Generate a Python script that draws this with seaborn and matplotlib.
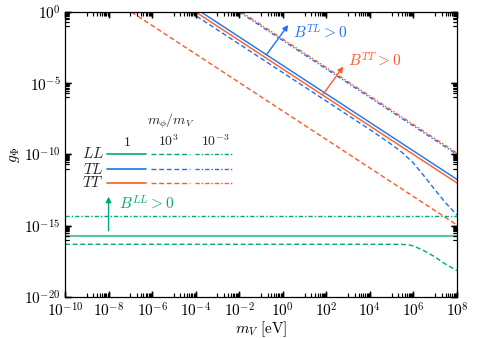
import numpy as np
import matplotlib
matplotlib.use("Agg")
import matplotlib.pyplot as plt
import seaborn as sns
from matplotlib.ticker import FixedLocator, FixedFormatter, NullFormatter

# colours for the three polarisation channels
c_LL = "#00a878"
c_TL = "#1f6ff5"
c_TT = "#ff5a26"

# LL lines
LL_1_x = [1e-10, 1e8]
LL_1_y = [2.0e-16, 2.0e-16]
LL_1e3_x = [1e-10, 1e5, 3e5, 6e5, 1e6, 3e6, 1e7, 3e7, 1e8]
LL_1e3_y = [5.0e-17, 5.0e-17, 4.9e-17, 4.6e-17, 3.8e-17, 1.8e-17, 6.3e-18, 2.0e-18, 7.1e-19]
LL_1em3_x = [1e-10, 1e8]
LL_1em3_y = [5.0e-15, 5.0e-15]

# TL lines
TL_1_x = [1.78e-4, 1e8]
TL_1_y = [1.0, 1.78e-12]
TL_1e3_x = [5.6e-5, 1e4, 1e5, 3e5, 1e6, 3e6, 1e7, 3e7, 1e8]
TL_1e3_y = [1.0, 5.6e-9, 5.0e-10, 1.4e-10, 2.5e-11, 3.2e-12, 3.2e-13, 4.0e-14, 5.6e-15]
TL_1em3_x = [1e-2, 1e8]
TL_1em3_y = [1.0, 1e-10]

# TT lines
TT_1_x = [1e-4, 1e8]
TT_1_y = [1.0, 1e-12]
TT_1e3_x = [1.12e-7, 1e8]
TT_1e3_y = [1.0, 1.12e-15]
TT_1em3_x = [1.26e-2, 1e8]
TT_1em3_y = [1.0, 1.26e-10]

x_major = [1e-10, 1e-8, 1e-6, 1e-4, 1e-2, 1e0, 1e2, 1e4, 1e6, 1e8]
x_labels = [r"$10^{-10}$", r"$10^{-8}$", r"$10^{-6}$", r"$10^{-4}$", r"$10^{-2}$",
            r"$10^{0}$", r"$10^{2}$", r"$10^{4}$", r"$10^{6}$", r"$10^{8}$"]
y_major = [1e-20, 1e-15, 1e-10, 1e-5, 1e0]
y_labels = [r"$10^{-20}$", r"$10^{-15}$", r"$10^{-10}$", r"$10^{-5}$", r"$10^{0}$"]
# minor cluster in the decade just below each major tick
x_minor = [m * 10.0**(k - 1) for k in range(-8, 9, 2) for m in range(1, 10)]
y_minor = [m * 10.0**(k - 1) for k in range(-15, 1, 5) for m in range(1, 10)]

sns.set_theme(style="ticks")
plt.rcParams["font.family"] = "serif"
plt.rcParams["font.serif"] = ["DejaVu Serif"]
plt.rcParams["mathtext.fontset"] = "cm"
plt.rcParams["axes.axisbelow"] = False

fig = plt.figure(figsize=(4.79, 3.38), dpi=100)
ax = fig.add_axes([0.1357, 0.1213, 0.8184, 0.8432])
ax.set_xscale("log")
ax.set_yscale("log")

dash = (0, (3.5, 2))
dashdot = (0, (3, 1.5, 1, 1.5))
lw = 1.0

sns.lineplot(x=LL_1_x, y=LL_1_y, ax=ax, color=c_LL, lw=1.6, alpha=0.65)
sns.lineplot(x=LL_1e3_x, y=LL_1e3_y, ax=ax, color=c_LL, lw=lw, linestyle=dash)
sns.lineplot(x=LL_1em3_x, y=LL_1em3_y, ax=ax, color=c_LL, lw=lw, linestyle=dashdot)

sns.lineplot(x=TL_1_x, y=TL_1_y, ax=ax, color=c_TL, lw=lw)
sns.lineplot(x=TL_1e3_x, y=TL_1e3_y, ax=ax, color=c_TL, lw=lw, linestyle=dash)
sns.lineplot(x=TL_1em3_x, y=TL_1em3_y, ax=ax, color=c_TL, lw=lw, linestyle=dashdot)

sns.lineplot(x=TT_1_x, y=TT_1_y, ax=ax, color=c_TT, lw=lw)
sns.lineplot(x=TT_1e3_x, y=TT_1e3_y, ax=ax, color=c_TT, lw=lw, linestyle=dash)
sns.lineplot(x=TT_1em3_x, y=TT_1em3_y, ax=ax, color=c_TT, lw=lw, linestyle=dashdot)

ax.set_xlim(1e-10, 1e8)
ax.set_ylim(1e-20, 1e0)

# tick setup
ax.xaxis.set_major_locator(FixedLocator(x_major))
ax.xaxis.set_major_formatter(FixedFormatter(x_labels))
ax.xaxis.set_minor_locator(FixedLocator(x_minor))
ax.xaxis.set_minor_formatter(NullFormatter())
ax.yaxis.set_major_locator(FixedLocator(y_major))
ax.yaxis.set_major_formatter(FixedFormatter(y_labels))
ax.yaxis.set_minor_locator(FixedLocator(y_minor))
ax.yaxis.set_minor_formatter(NullFormatter())
ax.tick_params(which="both", direction="in", top=True, right=True, bottom=True, left=True,
               color="black")
ax.tick_params(which="major", length=4.5, width=1.0, pad=3, labelsize=11, labelcolor="black")
ax.tick_params(which="minor", length=3.0, width=0.8)

# tick marks also drawn explicitly (inward, all four sides)
xt = ax.get_xaxis_transform()
yt = ax.get_yaxis_transform()
for pos, L, w in [(x_major, 0.0159, 1.0), (x_minor, 0.0106, 0.8)]:
    ax.vlines(pos, 0, L, transform=xt, color="black", lw=w, clip_on=False, zorder=5)
    ax.vlines(pos, 1 - L, 1, transform=xt, color="black", lw=w, clip_on=False, zorder=5)
for pos, L, w in [(y_major, 0.0219 * 392 / 392 * 0.727, 1.0), (y_minor, 0.0106, 0.8)]:
    ax.hlines(pos, 0, L, transform=yt, color="black", lw=w, clip_on=False, zorder=5)
    ax.hlines(pos, 1 - L, 1, transform=yt, color="black", lw=w, clip_on=False, zorder=5)
ax.set_xlim(1e-10, 1e8)
ax.set_ylim(1e-20, 1e0)

# arrows + labels for the allowed regions
arrow = dict(arrowstyle="-|>", lw=1.0, mutation_scale=8, shrinkA=0, shrinkB=0)
ax.annotate("", xy=(10**0.25, 10**-0.91), xytext=(10**-0.74, 10**-2.98),
            arrowprops=dict(arrow, color=c_TL))
ax.text(10**0.48, 10**-1.38, r"$B^{TL}>0$", color=c_TL, fontsize=11, va="center", ha="left")
ax.annotate("", xy=(10**2.78, 10**-3.83), xytext=(10**1.86, 10**-5.75),
            arrowprops=dict(arrow, color=c_TT))
ax.text(10**3.0, 10**-3.32, r"$B^{TT}>0$", color=c_TT, fontsize=11, va="center", ha="left")
ax.annotate("", xy=(1e-8, 10**-12.96), xytext=(1e-8, 10**-15.35),
            arrowprops=dict(arrow, color=c_LL))
ax.text(10**-7.52, 10**-13.4, r"$B^{LL}>0$", color=c_LL, fontsize=11, va="center", ha="left")

# hand made legend table
tr = ax.transAxes
ax.text(0.27, 0.615, r"$m_\phi/m_V$", transform=tr, ha="center", va="center", fontsize=10)
for xc, lab in zip([0.157, 0.264, 0.383], [r"$1$", r"$10^3$", r"$10^{-3}$"]):
    ax.text(xc, 0.545, lab, transform=tr, ha="center", va="center", fontsize=10)
rows = [(0.502, r"$LL$", c_LL), (0.449, r"$TL$", c_TL), (0.401, r"$TT$", c_TT)]
for yr, lab, col in rows:
    ax.text(0.0995, yr, lab, transform=tr, ha="right", va="center", fontsize=11)
    ax.plot([0.108, 0.206], [yr, yr], transform=tr, color=col, lw=1.2)
    ax.plot([0.219, 0.319], [yr, yr], transform=tr, color=col, lw=lw, linestyle=dash)
    ax.plot([0.332, 0.429], [yr, yr], transform=tr, color=col, lw=lw, linestyle=dashdot)

for s in ax.spines.values():
    s.set_color("black")
    s.set_linewidth(0.9)

ax.set_xlabel(r"$m_V\ [\mathrm{eV}]$", fontsize=11, labelpad=0, color="black")
ax.set_ylabel(r"$g_\Phi$", fontsize=11, labelpad=2, color="black")

fig.savefig("out.png", dpi=100)
